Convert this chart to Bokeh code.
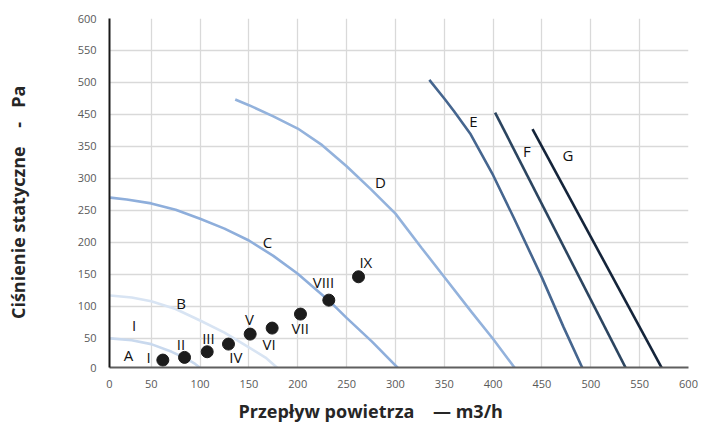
from bokeh.plotting import figure
from bokeh.models import Range1d, FixedTicker, Title
from bokeh.core.properties import value
from bokeh.embed import file_html
from bokeh.resources import INLINE

# ---------------- data ----------------
# y values are in the chart's linear plot units (gridline index * 50);
# the printed tick labels skip "400", exactly as in the original.
y_tick_pos = [50, 100, 150, 200, 250, 300, 350, 400, 450, 500, 550]
y_tick_labels = ["50", "100", "150", "200", "250", "300", "350",
                 "450", "500", "550", "600"]
x_tick_pos = [50, 100, 150, 200, 250, 300, 350, 400, 450, 500, 550, 600]
x_tick_labels = ["50", "100", "150", "200", "250", "300", "350", "400",
                 "450", "500", "550", "600"]
zero_label = "0"

curve_a_x = [8, 30, 50, 71, 85, 95, 103.5]
curve_a_y = [50, 47, 41, 29, 19, 10, 0]
curve_b_x = [8, 30, 50, 75, 100, 125, 150, 167, 182]
curve_b_y = [117, 114, 108, 96, 78, 59, 36, 20, 0]
curve_c_x = [8, 25, 50, 75, 100, 125, 150, 175, 200, 232, 250, 276, 305]
curve_c_y = [270, 267, 261, 251, 237, 221.5, 203, 179, 151, 109, 82, 45, 0]
curve_d_x = [136, 150, 175, 200, 225, 250, 275, 300, 327, 350, 378, 400, 424]
curve_d_y = [423.5, 414.5, 397, 378, 352, 319, 283, 245, 191, 146, 91, 49, 0]
curve_e_x = [334.7, 350, 360, 377, 400, 421, 450, 472, 492.5]
curve_e_y = [454, 425, 405, 369, 305, 239, 145, 68, 0]
curve_f_x = [402, 537]
curve_f_y = [403, 0]
curve_g_x = [440.3, 574]
curve_g_y = [377, 0]

point_x = [61.9, 84.1, 107.3, 129.1, 151.3, 173.8, 202.8, 231.8, 262.2]
point_y = [16.1, 20.3, 29.1, 41.1, 56.7, 66.1, 88, 109.8, 146.3]

label_text = ["A", "I", "B", "C", "D", "E", "F", "G",
              "I", "II", "III", "IV", "V", "VI", "VII", "VIII", "IX"]
label_x = [26.7, 32.6, 80.7, 169, 284.7, 379.9, 434.5, 476.5,
           47.2, 80.4, 108.6, 136.7, 150.6, 170.7, 202.5, 226.3, 269.7]
label_y = [24, 71, 104.7, 200, 294.7, 390, 342.7, 336,
           20.8, 41.1, 51, 20.8, 79.7, 40.6, 67, 138.4, 169.7]

NB = "\u00a0"
x_title = "Przepływ powietrza" + NB * 3 + " — m3/h"
y_title = "Ciśnienie statyczne" + NB * 3 + " - " + NB * 2 + "Pa" + NB * 4

# ---------------- figure ----------------
X_START = 7.3   # where the drawn axes begin (labelled "0" in the original)
Y_START = 4.5
FONT = "Open Sans"

p = figure(width=702, height=428, output_backend="svg", toolbar_location=None,
           x_range=Range1d(X_START, 600), y_range=Range1d(Y_START, 550),
           min_border_left=109, min_border_right=14, min_border_top=18,
           min_border_bottom=61)
p.outline_line_color = None
p.background_fill_color = "white"
p.border_fill_color = "white"

# axes
p.xaxis.ticker = FixedTicker(ticks=[X_START] + x_tick_pos)
xo = {X_START: zero_label}
xo.update({pos: lab for pos, lab in zip(x_tick_pos, x_tick_labels)})
p.xaxis.major_label_overrides = xo
p.yaxis.ticker = FixedTicker(ticks=[Y_START] + y_tick_pos)
yo = {Y_START: zero_label}
yo.update({pos: lab for pos, lab in zip(y_tick_pos, y_tick_labels)})
p.yaxis.major_label_overrides = yo

for ax in (p.xaxis[0], p.yaxis[0]):
    ax.major_tick_in = 0
    ax.major_tick_out = 0
    ax.minor_tick_in = 0
    ax.minor_tick_out = 0
    ax.major_label_text_font = FONT
    ax.major_label_text_font_size = "11px"
    ax.major_label_text_color = "#595959"

p.xaxis.axis_line_color = "#5f5f5f"
p.xaxis.axis_line_width = 2
p.xaxis.major_label_standoff = 12
p.yaxis.axis_line_color = "#1a1a1a"
p.yaxis.axis_line_width = 2
p.yaxis.major_label_standoff = 13

p.yaxis.axis_label = y_title
p.yaxis.axis_label_text_font = FONT
p.yaxis.axis_label_text_font_style = "bold"
p.yaxis.axis_label_text_font_size = "18px"
p.yaxis.axis_label_text_color = "#262626"
p.yaxis.axis_label_standoff = 45

t = Title(text=x_title, align="left", offset=129, standoff=12,
          text_font=FONT, text_font_style="bold", text_font_size="18px",
          text_color="#262626")
p.add_layout(t, "below")

# grid
p.xgrid.ticker = FixedTicker(ticks=x_tick_pos)
p.ygrid.ticker = FixedTicker(ticks=y_tick_pos[:-1])
p.xgrid.grid_line_color = "#d9d9d9"
p.ygrid.grid_line_color = "#d9d9d9"
p.xgrid.grid_line_width = 1.3
p.ygrid.grid_line_width = 1.3

# curves
p.line(curve_a_x, curve_a_y, line_color="#c9d9ee", line_width=2.6)
p.line(curve_b_x, curve_b_y, line_color="#d8e4f3", line_width=2.6)
p.line(curve_c_x, curve_c_y, line_color="#8eaedb", line_width=2.6)
p.line(curve_d_x, curve_d_y, line_color="#93b2dc", line_width=2.6)
p.line(curve_e_x, curve_e_y, line_color="#46668f", line_width=2.6)
p.line(curve_f_x, curve_f_y, line_color="#2c4560", line_width=2.6)
p.line(curve_g_x, curve_g_y, line_color="#14243a", line_width=2.6)

# points
p.scatter(point_x, point_y, size=12, fill_color="#1c1c1c", line_color="#1c1c1c")

# labels
p.text(label_x, label_y, text=label_text, text_align="center",
       text_baseline="middle", text_font=value(FONT), text_font_size="15px",
       text_color="#111111")

open("out.html", "w").write(file_html(p, INLINE))
